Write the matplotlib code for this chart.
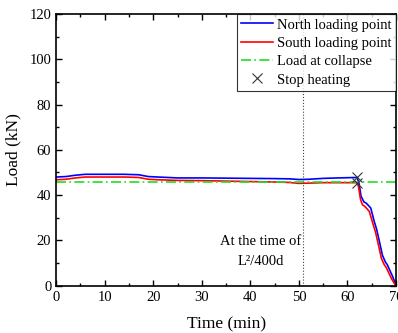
import numpy as np
import matplotlib.pyplot as plt
from matplotlib.ticker import MultipleLocator

plt.rcParams['font.family'] = 'Liberation Serif'
plt.rcParams['mathtext.fontset'] = 'stix'

# north loading point (min, kN)
t_north = [0, 2, 4, 6, 10, 14, 17, 19, 21, 25, 30, 35, 40, 45, 48, 50, 52, 55, 58, 62,
           62.4, 62.8, 63.4, 63.9, 64.8, 65.5, 66.0, 66.5, 67.2, 67.8, 68.2, 69.3, 69.8]
load_north = [48.0, 48.2, 48.8, 49.2, 49.2, 49.2, 49.0, 48.2, 48.0, 47.6, 47.6, 47.5, 47.4, 47.3, 47.2,
              46.9, 47.0, 47.4, 47.6, 47.8,
              45.0, 39.5, 37.0, 36.4, 34.3, 28.5, 25.0, 20.3, 13.5, 10.5, 9.3, 4.1, 1.3]

# south loading point (min, kN)
t_south = [0, 2, 4, 6, 10, 14, 17, 19, 21, 25, 30, 35, 40, 45, 48, 50, 52, 55, 58, 62,
           62.3, 62.7, 63.1, 63.6, 64.5, 65.3, 65.8, 66.3, 67.0, 67.6, 68.0, 69.1, 69.8]
load_south = [46.8, 47.0, 47.6, 48.0, 48.0, 48.0, 47.8, 47.0, 46.8, 46.5, 46.4, 46.2, 46.0, 45.8, 45.6,
              45.2, 45.3, 45.5, 45.5, 45.5,
              43.5, 38.0, 35.7, 35.0, 32.8, 27.0, 23.5, 18.8, 12.0, 9.2, 8.0, 3.0, 0.5]

collapse_load = 45.8
stop_t = [62, 62]
stop_load = [47.8, 45.5]
t_ref = 50.8

fig, ax = plt.subplots(figsize=(3.98, 3.33), dpi=100)
fig.subplots_adjust(left=0.141, right=0.995, top=0.958, bottom=0.142)

ax.plot(t_north, load_north, color='blue', lw=1.2, label='North loading point')
ax.plot(t_south, load_south, color='red', lw=1.2, label='South loading point')
ax.axhline(collapse_load, color='#22dd22', lw=1.2, ls=(0, (6, 2, 1, 2)), label='Load at collapse')
ax.plot(stop_t, stop_load, 'x', color='#333333', ms=7, mew=0.8, label='Stop heating')
ax.axvline(t_ref, color='#444444', lw=0.8, ls=':')
ax.text(t_ref - 0.3, 15.0, 'At the time of\nL²/400d', ha='right', va='center',
        multialignment='center', fontsize=10.5, linespacing=1.75)

ax.set_xlim(0, 70)
ax.set_ylim(0, 120)
ax.xaxis.set_major_locator(MultipleLocator(10))
ax.xaxis.set_minor_locator(MultipleLocator(5))
ax.yaxis.set_major_locator(MultipleLocator(20))
ax.yaxis.set_minor_locator(MultipleLocator(10))
ax.tick_params(which='both', direction='in', top=True, right=True, labelsize=10.5)
ax.tick_params(which='major', length=4, width=1)
ax.tick_params(which='minor', length=2, width=1)
for s in ax.spines.values():
    s.set_linewidth(1.2)
ax.set_xlabel('Time (min)', fontsize=12.5, labelpad=9)
ax.set_ylabel('Load (kN)', fontsize=12.5, labelpad=6)

leg = ax.legend(loc='upper right', fontsize=10.5, frameon=True, fancybox=False,
                edgecolor='black', borderpad=0.3, handlelength=2.2, labelspacing=0.35,
                handletextpad=0.25, borderaxespad=0.0)
leg.get_frame().set_linewidth(0.8)

fig.savefig('out.png', dpi=100)
